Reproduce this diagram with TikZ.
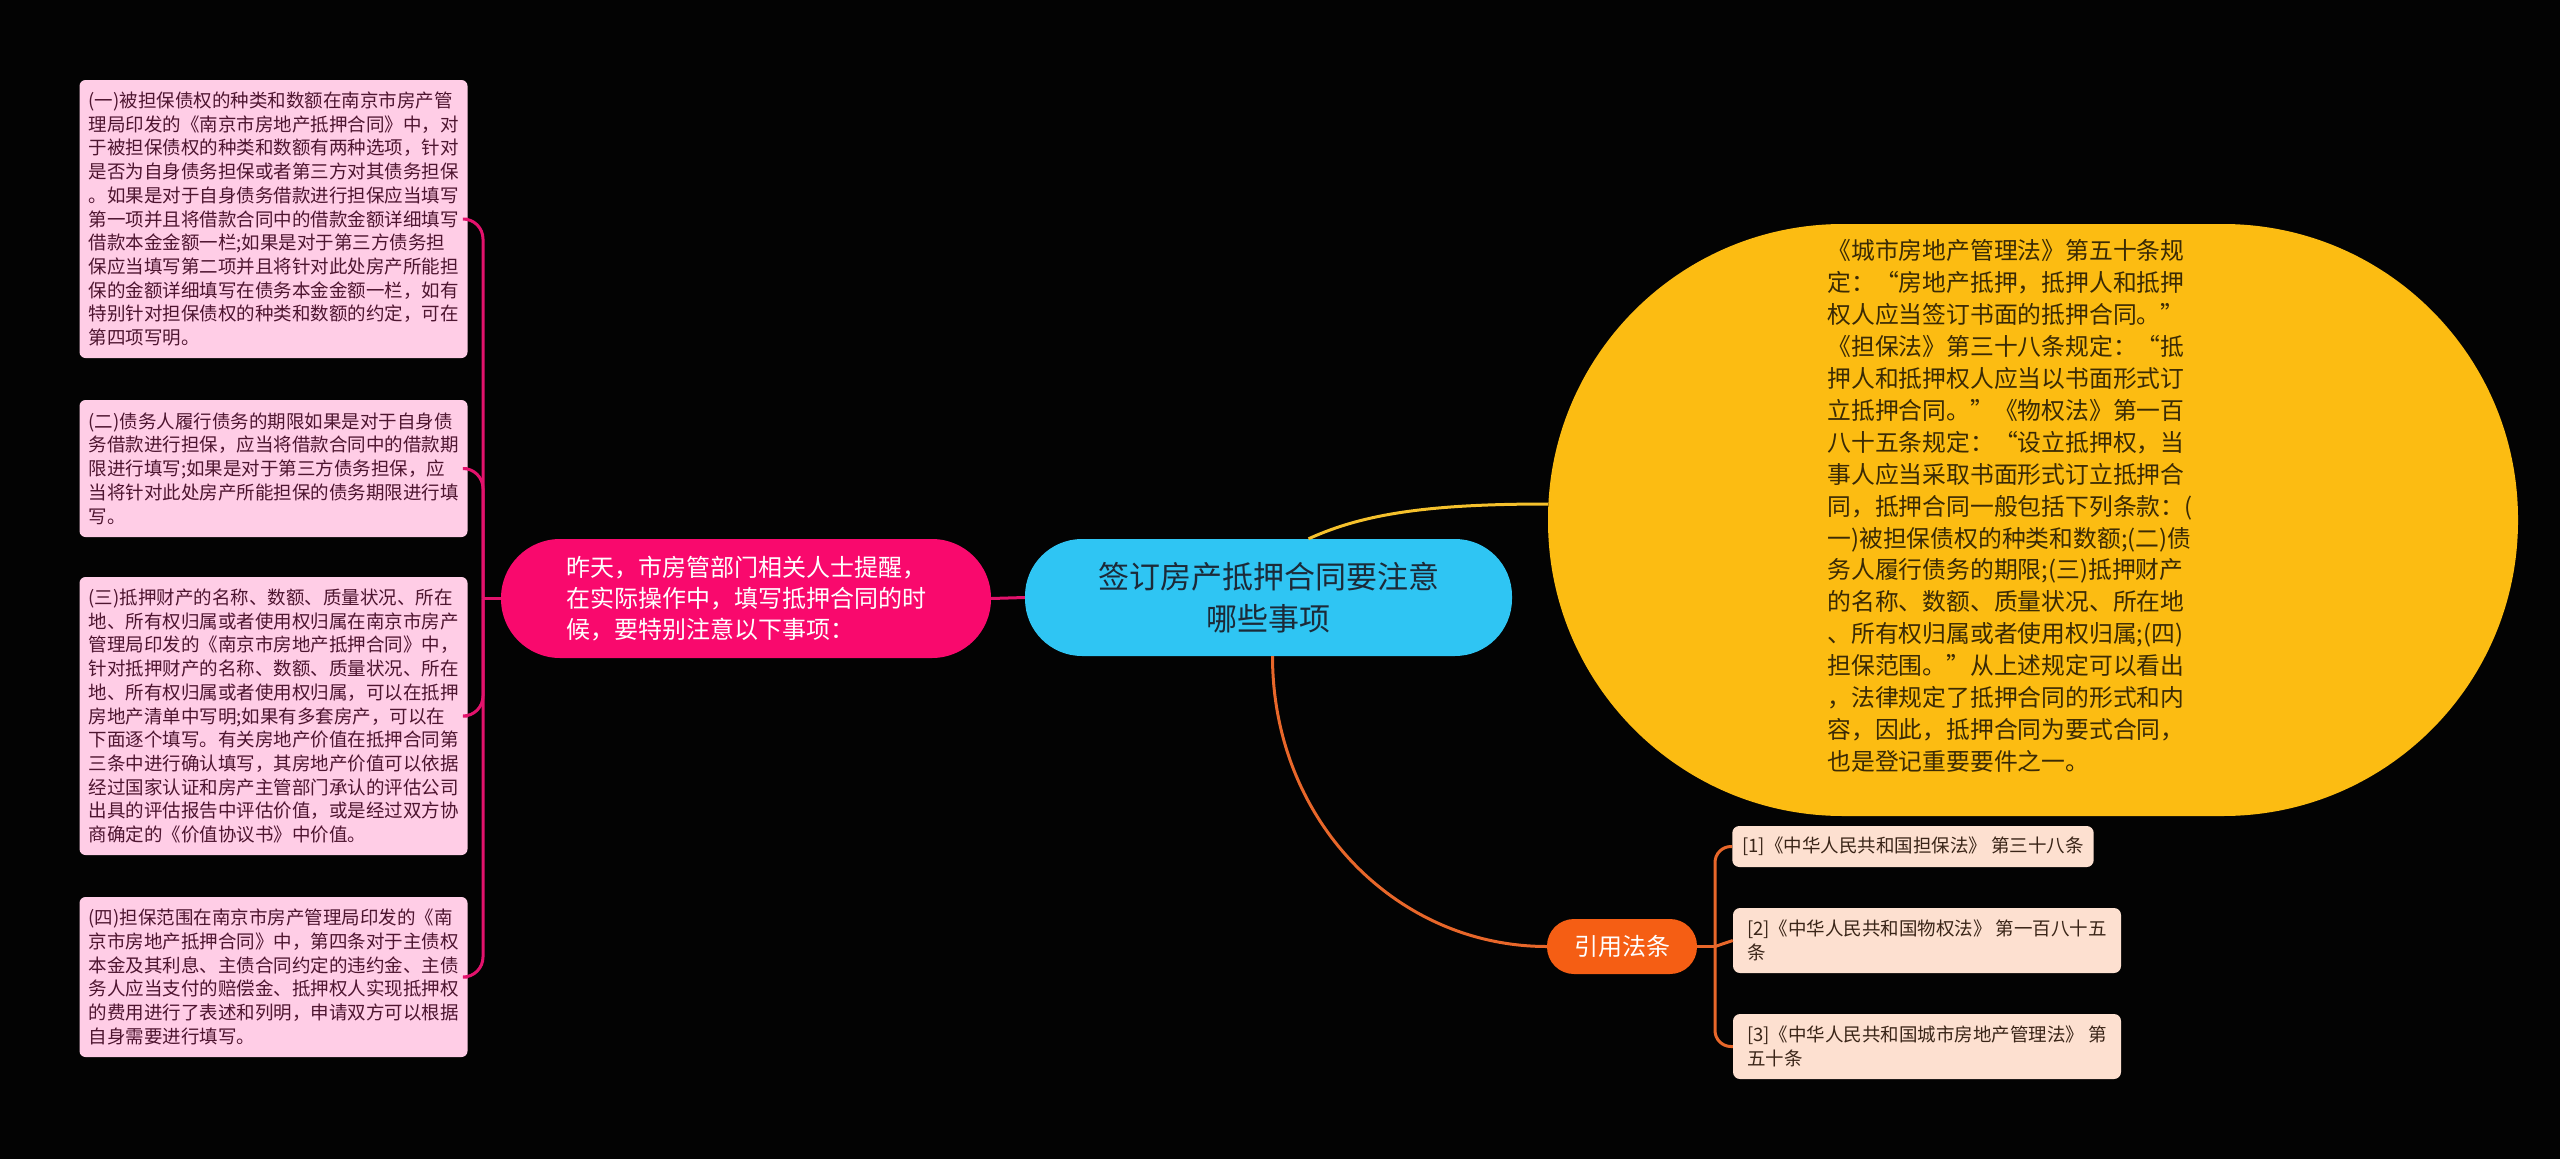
\documentclass[tikz,border=0pt]{standalone}
\usepackage{fontspec}
\setmainfont{Noto Sans CJK SC}
\definecolor{bgc}{HTML}{030303}
\definecolor{leafpink}{HTML}{FFCDE6}
\definecolor{leaftext}{HTML}{4E1530}
\definecolor{hotpink}{HTML}{F9096D}
\definecolor{pinkline}{HTML}{E3126C}
\definecolor{skyblue}{HTML}{2FC5F3}
\definecolor{bluetext}{HTML}{1C2A38}
\definecolor{amber}{HTML}{FCBC12}
\definecolor{ambertext}{HTML}{3A2A05}
\definecolor{amberline}{HTML}{F5C12C}
\definecolor{orangenode}{HTML}{F55E14}
\definecolor{orangeline}{HTML}{E8672A}
\definecolor{peach}{HTML}{FDE0D0}
\definecolor{peachtext}{HTML}{3A2518}
\tikzset{
  leafbox/.style={fill=leafpink, text=leaftext, rounded corners=6pt, inner xsep=9pt, inner ysep=0pt,
    align=left, minimum width=387pt, font=\fontsize{18.5pt}{23.7pt}\selectfont},
  pinknode/.style={fill=hotpink, text=white, rounded corners=59pt, inner sep=0pt, align=left,
    minimum width=490pt, minimum height=119pt, font=\fontsize{24pt}{31pt}\selectfont},
  rootnode/.style={fill=skyblue, text=bluetext, rounded corners=57pt, inner sep=0pt, align=center,
    minimum width=487pt, minimum height=117pt, font=\fontsize{31pt}{42.5pt}\selectfont},
  lawshape/.style={fill=amber, rounded corners=295pt, inner sep=0pt, minimum width=970pt, minimum height=592pt},
  lawtext/.style={text=ambertext, inner sep=0pt, align=left, font=\fontsize{23.8pt}{31.9pt}\selectfont},
  refhead/.style={fill=orangenode, text=white, rounded corners=27pt, inner sep=0pt,
    minimum width=150pt, minimum height=55pt, font=\fontsize{24pt}{30pt}\selectfont},
  refbox/.style={fill=peach, text=peachtext, rounded corners=7pt, inner xsep=10pt, inner ysep=0pt,
    align=left, font=\fontsize{18.5pt}{24.5pt}\selectfont},
  pconn/.style={draw=pinkline, line width=3pt},
  yconn/.style={draw=amberline, line width=3pt},
  oconn/.style={draw=orangeline, line width=3pt}
}
\begin{document}
\begin{tikzpicture}[x=1pt,y=-1pt]
\useasboundingbox (0,0) rectangle (2560,1159);
\fill[bgc] (0,0) rectangle (2560,1159);

% nodes
\node[rootnode] (root) at (1268.5,597.5) {签订房产抵押合同要注意\\哪些事项};
\node[pinknode] (pk) at (746,598.5) {昨天，市房管部门相关人士提醒，\\在实际操作中，填写抵押合同的时\\候，要特别注意以下事项：};

\node[leafbox, minimum height=278pt] (b1) at (273.5,219) {(一)被担保债权的种类和数额在南京市房产管\\理局印发的《南京市房地产抵押合同》中，对\\于被担保债权的种类和数额有两种选项，针对\\是否为自身债务担保或者第三方对其债务担保\\。如果是对于自身债务借款进行担保应当填写\\第一项并且将借款合同中的借款金额详细填写\\借款本金金额一栏;如果是对于第三方债务担\\保应当填写第二项并且将针对此处房产所能担\\保的金额详细填写在债务本金金额一栏，如有\\特别针对担保债权的种类和数额的约定，可在\\第四项写明。};
\node[leafbox, minimum height=137pt] (b2) at (273.5,468.5) {(二)债务人履行债务的期限如果是对于自身债\\务借款进行担保，应当将借款合同中的借款期\\限进行填写;如果是对于第三方债务担保，应\\当将针对此处房产所能担保的债务期限进行填\\写。};
\node[leafbox, minimum height=278pt] (b3) at (273.5,716) {(三)抵押财产的名称、数额、质量状况、所在\\地、所有权归属或者使用权归属在南京市房产\\管理局印发的《南京市房地产抵押合同》中，\\针对抵押财产的名称、数额、质量状况、所在\\地、所有权归属或者使用权归属，可以在抵押\\房地产清单中写明;如果有多套房产，可以在\\下面逐个填写。有关房地产价值在抵押合同第\\三条中进行确认填写，其房地产价值可以依据\\经过国家认证和房产主管部门承认的评估公司\\出具的评估报告中评估价值，或是经过双方协\\商确定的《价值协议书》中价值。};
\node[leafbox, minimum height=160pt] (b4) at (273.5,977) {(四)担保范围在南京市房产管理局印发的《南\\京市房地产抵押合同》中，第四条对于主债权\\本金及其利息、主债合同约定的违约金、主债\\务人应当支付的赔偿金、抵押权人实现抵押权\\的费用进行了表述和列明，申请双方可以根据\\自身需要进行填写。};

\node[lawshape] (law) at (2033,520) {};
\node[lawtext] (lawt) at (2010,506) {《城市房地产管理法》第五十条规\\定：“房地产抵押，抵押人和抵押\\权人应当签订书面的抵押合同。”\\《担保法》第三十八条规定：“抵\\押人和抵押权人应当以书面形式订\\立抵押合同。”《物权法》第一百\\八十五条规定：“设立抵押权，当\\事人应当采取书面形式订立抵押合\\同，抵押合同一般包括下列条款：(\\一)被担保债权的种类和数额;(二)债\\务人履行债务的期限;(三)抵押财产\\的名称、数额、质量状况、所在地\\、所有权归属或者使用权归属;(四)\\担保范围。”从上述规定可以看出\\，法律规定了抵押合同的形式和内\\容，因此，抵押合同为要式合同，\\也是登记重要要件之一。};

\node[refhead] (rh) at (1622,946.5) {引用法条};
\node[refbox, minimum width=360pt, minimum height=41pt] (r1) at (1913,846.5) {[1]《中华人民共和国担保法》 第三十八条};
\node[refbox, minimum width=388pt, minimum height=65pt] (r2) at (1927,940.5) {[2]《中华人民共和国物权法》 第一百八十五\\条\hphantom{中华人民共和国物权法》 第一百八十五}};
\node[refbox, minimum width=388pt, minimum height=65pt] (r3) at (1927,1046.5) {[3]《中华人民共和国城市房地产管理法》 第\\五十条\hphantom{中华人民共和国城市房地产管理法》}};

% connectors
\coordinate (lb) at (483,598.5);
\draw[pconn] (pk.west) -- (lb);
\draw[pconn, rounded corners=20pt] (lb) |- (b1.east);
\draw[pconn, rounded corners=20pt] (lb) |- (b2.east);
\draw[pconn, rounded corners=20pt] (lb) |- (b3.east);
\draw[pconn, rounded corners=20pt] (lb) |- (b4.east);
\draw[pconn] (root.west) -- (pk.east);

\draw[yconn] ([xshift=40pt]root.north) .. controls +(55,-25) and +(-120,0) .. ([yshift=16pt]law.west);
\draw[oconn] ([xshift=4pt]root.south) .. controls +(0,165) and +(-150,0) .. (rh.west);

\coordinate (rb) at (1715,946.5);
\draw[oconn] (rh.east) -- (rb);
\draw[oconn, rounded corners=16pt] (rb) |- (r1.west);
\draw[oconn] (rb) -- (r2.west);
\draw[oconn, rounded corners=16pt] (rb) |- (r3.west);
\end{tikzpicture}
\end{document}
